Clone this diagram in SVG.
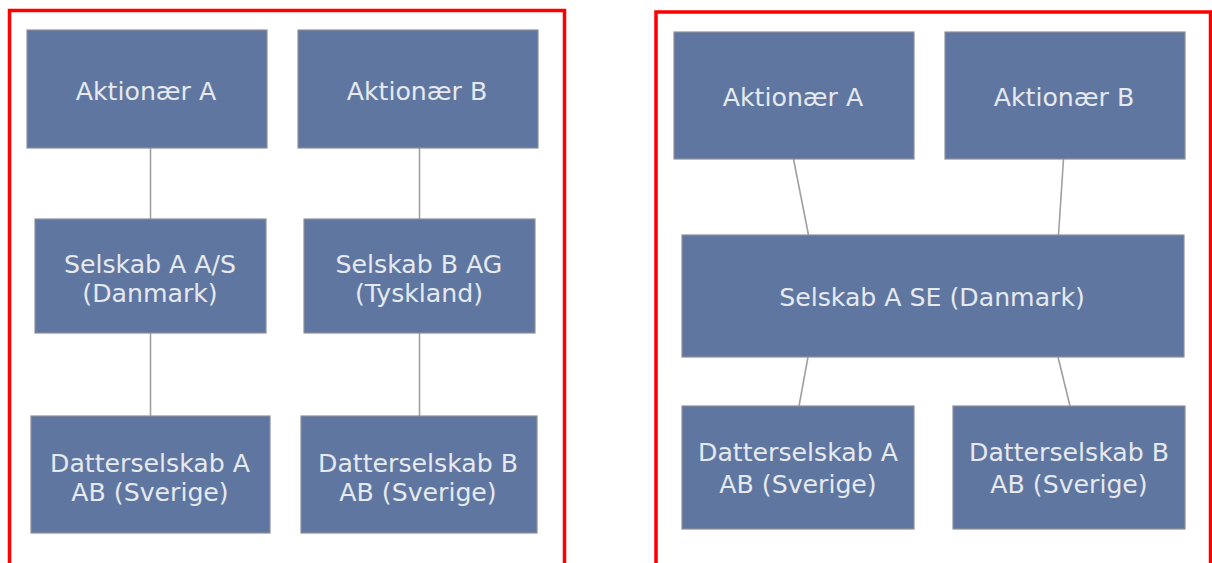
<svg xmlns="http://www.w3.org/2000/svg" width="1212" height="563" viewBox="0 0 1212 563">
  <style>
    .frame { fill: none; stroke: #ff0000; stroke-width: 3.5; }
    .box { fill: #5f77a0; stroke: #8c9099; stroke-width: 1.2; }
    .lbl { font-family: "DejaVu Sans", Verdana, sans-serif; font-size: 25.2px; fill: #e6e9ef; text-anchor: middle; }
    .link { stroke: #a0a0a0; stroke-width: 1.6; fill: none; }
  </style>

  <!-- outer frames -->
  <rect class="frame" x="9.5" y="10.5" width="555" height="570"/>
  <rect class="frame" x="656" y="12" width="554.5" height="570"/>

  <!-- connectors -->
  <g id="connectors">
    <line class="link" x1="150.5" y1="148" x2="150.5" y2="219"/>
    <line class="link" x1="150.5" y1="333" x2="150.5" y2="416"/>
    <line class="link" x1="419.5" y1="148" x2="419.5" y2="219"/>
    <line class="link" x1="419.5" y1="333" x2="419.5" y2="416"/>
    <line class="link" x1="793.5" y1="159" x2="808.5" y2="235"/>
    <line class="link" x1="1063.5" y1="159" x2="1058.5" y2="235"/>
    <line class="link" x1="808" y1="357" x2="799" y2="406"/>
    <line class="link" x1="1058" y1="357" x2="1070" y2="406"/>
  </g>

  <!-- left structure -->
  <g id="l-aktionaer-a">
    <rect class="box" x="27" y="30" width="240" height="118"/>
    <text class="lbl" x="146" y="100">Aktionær A</text>
  </g>
  <g id="l-aktionaer-b">
    <rect class="box" x="298" y="30" width="240" height="118"/>
    <text class="lbl" x="417" y="100">Aktionær B</text>
  </g>
  <g id="l-selskab-a">
    <rect class="box" x="35" y="219" width="231" height="114"/>
    <text class="lbl" x="150" y="273">Selskab A A/S</text>
    <text class="lbl" x="150" y="302">(Danmark)</text>
  </g>
  <g id="l-selskab-b">
    <rect class="box" x="304" y="219" width="231" height="114"/>
    <text class="lbl" x="419" y="273">Selskab B AG</text>
    <text class="lbl" x="419" y="302">(Tyskland)</text>
  </g>
  <g id="l-datter-a">
    <rect class="box" x="31" y="416" width="239" height="117"/>
    <text class="lbl" x="150" y="472">Datterselskab A</text>
    <text class="lbl" x="150" y="501">AB (Sverige)</text>
  </g>
  <g id="l-datter-b">
    <rect class="box" x="301" y="416" width="236" height="117"/>
    <text class="lbl" x="418" y="472">Datterselskab B</text>
    <text class="lbl" x="418" y="501">AB (Sverige)</text>
  </g>

  <!-- right structure -->
  <g id="r-aktionaer-a">
    <rect class="box" x="674" y="32" width="240" height="127"/>
    <text class="lbl" x="793" y="106">Aktionær A</text>
  </g>
  <g id="r-aktionaer-b">
    <rect class="box" x="945" y="32" width="240" height="127"/>
    <text class="lbl" x="1064" y="106">Aktionær B</text>
  </g>
  <g id="r-selskab-se">
    <rect class="box" x="682" y="235" width="502" height="122"/>
    <text class="lbl" x="932" y="306">Selskab A SE (Danmark)</text>
  </g>
  <g id="r-datter-a">
    <rect class="box" x="682" y="406" width="232" height="123"/>
    <text class="lbl" x="798" y="461">Datterselskab A</text>
    <text class="lbl" x="798" y="493">AB (Sverige)</text>
  </g>
  <g id="r-datter-b">
    <rect class="box" x="953" y="406" width="232" height="123"/>
    <text class="lbl" x="1069" y="461">Datterselskab B</text>
    <text class="lbl" x="1069" y="493">AB (Sverige)</text>
  </g>
</svg>
